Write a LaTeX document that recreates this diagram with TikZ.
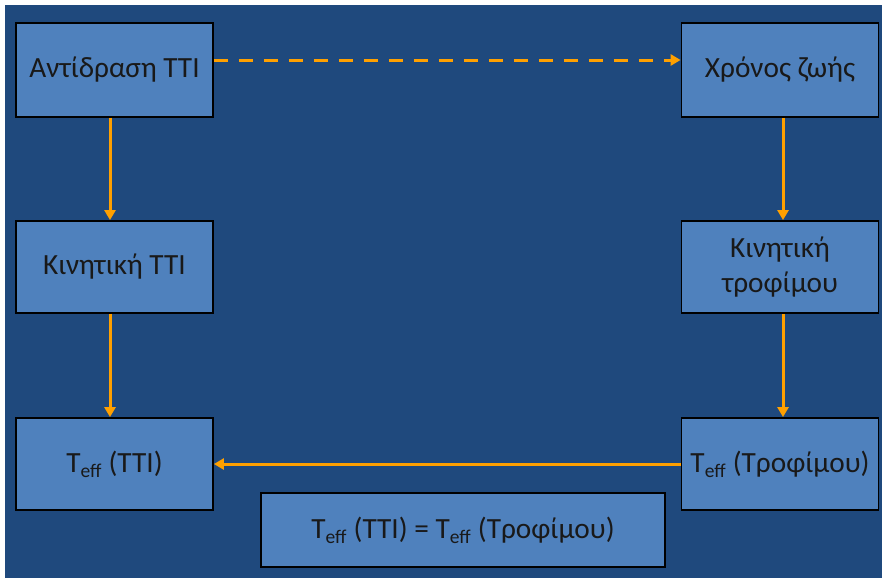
\documentclass[tikz,border=0pt]{standalone}
\usepackage{fontspec}
\setmainfont{Carlito}
\usetikzlibrary{arrows.meta}
\definecolor{bgblue}{RGB}{31,73,125}
\definecolor{boxblue}{RGB}{79,129,189}
\definecolor{arrorange}{RGB}{255,160,0}
\newcommand{\Teff}{T\textsubscript{\fontsize{19.5}{19.5}\selectfont eff}}
\begin{document}
\begin{tikzpicture}[x=1pt,y=-1pt,
  boxnode/.style={draw=black, line width=1.8pt, fill=boxblue, minimum width=197pt, minimum height=94pt, inner sep=0pt, align=center, font=\fontsize{29.3}{35}\selectfont, text=black!90},
  conn/.style={draw=arrorange, line width=3pt, -{Triangle[length=10pt,width=11pt]}}]
\useasboundingbox (0,0) rectangle (882,578);
\fill[white] (0,0) rectangle (882,578);
\fill[bgblue] (5,5) rectangle (882,578);
\node[boxnode] (a) at (114.5,70) {Αντίδραση TTI};
\node[boxnode] (b) at (780,70) {Χρόνος ζωής};
\node[boxnode, minimum height=92pt] (c) at (114.5,267) {Κινητική TTI};
\node[boxnode, minimum height=92pt] (d) at (780,267) {Κινητική\\τροφίμου};
\node[boxnode, minimum height=92pt] (e) at (114.5,464) {\Teff\ (TTI)};
\node[boxnode, minimum height=92pt] (f) at (780,464) {\Teff\ (Τροφίμου)};
\node[boxnode, minimum width=404pt, minimum height=74pt] (g) at (463,530) {\Teff\ (TTI) = \Teff\ (Τροφίμου)};
\draw[conn, dash pattern=on 14pt off 11pt] (a.east |- 0,60) -- (b.west |- 0,60);
\draw[conn] (a.south -| 110,0) -- (c.north -| 110,0);
\draw[conn] (c.south -| 110,0) -- (e.north -| 110,0);
\draw[conn] (b.south -| 783,0) -- (d.north -| 783,0);
\draw[conn] (d.south -| 783,0) -- (f.north -| 783,0);
\draw[conn] (f.west) -- (e.east);
\end{tikzpicture}
\end{document}
